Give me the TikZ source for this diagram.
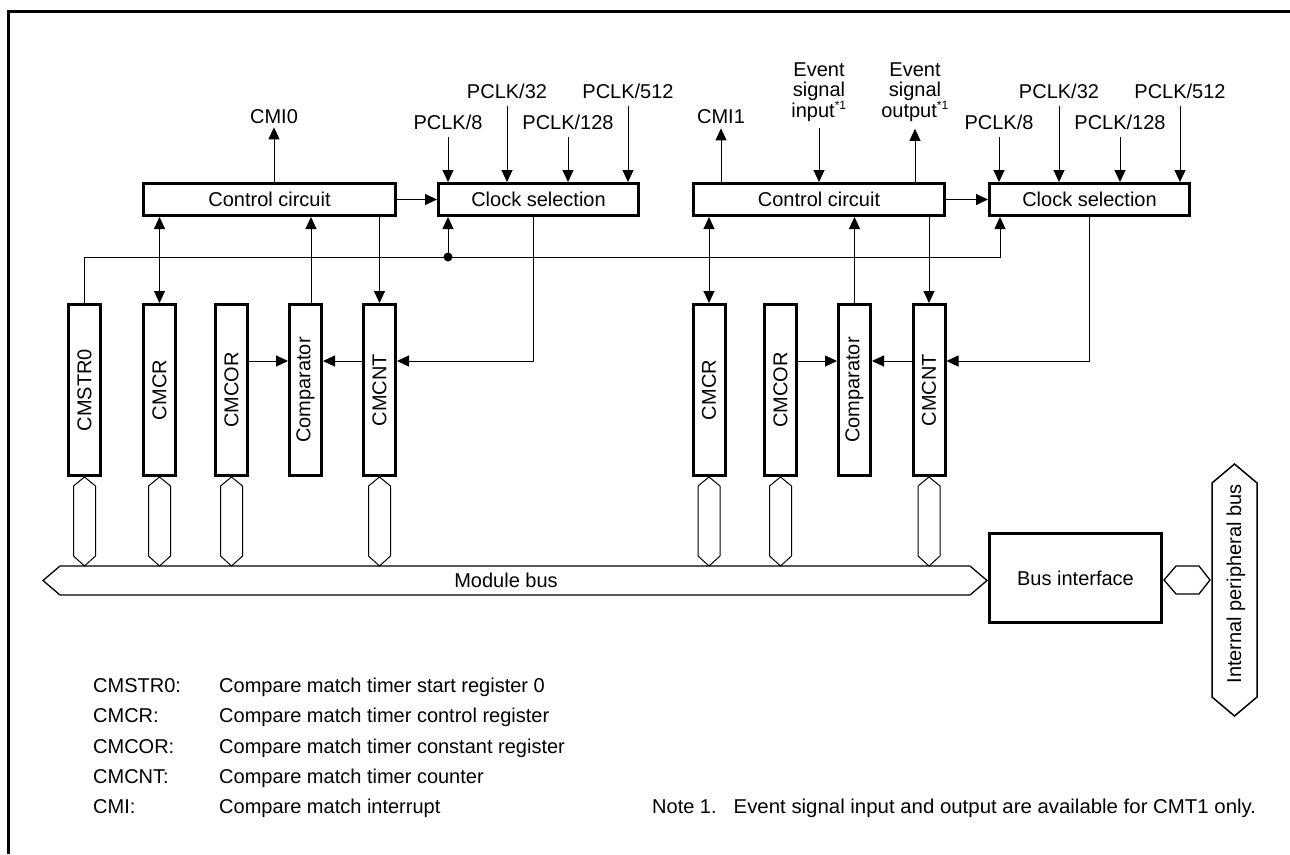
\documentclass[tikz,border=0pt]{standalone}
\usepackage{fontspec}
\setmainfont{Liberation Sans}
\usetikzlibrary{arrows.meta,calc}
\tikzset{
  box/.style={draw, line width=3pt, inner sep=0pt, font=\fontsize{20}{24}\selectfont},
  reg/.style={box, minimum width=32pt, minimum height=171pt},
  lbl/.style={inner sep=0pt, font=\fontsize{20}{20.5}\selectfont},
  arr/.style={line width=1pt, -{Triangle[length=12pt,width=11pt]}},
  darr/.style={line width=1pt, {Triangle[length=12pt,width=11pt]}-{Triangle[length=12pt,width=11pt]}},
  wire/.style={line width=1pt},
  busline/.style={line width=1.3pt},
}
\newcommand{\supone}{\textsuperscript{\fontsize{12}{12}\selectfont *1}}
\begin{document}
\begin{tikzpicture}[x=1pt,y=-1pt]
\useasboundingbox (0,0) rectangle (1290,854);
% frame
\draw[line width=3pt] (8.5,854) -- (8.5,11.5) -- (1290,11.5);

% top boxes
\node[box, minimum width=252pt, minimum height=32pt] (cc0) at (269.5,199.5) {Control circuit};
\node[box, minimum width=200pt, minimum height=32pt] (cs0) at (538.5,199.5) {Clock selection};
\node[box, minimum width=251pt, minimum height=32pt] (cc1) at (819,199.5) {Control circuit};
\node[box, minimum width=200pt, minimum height=32pt] (cs1) at (1089.5,199.5) {Clock selection};

% registers
\node[reg] (cmstr0) at (84.5,390) {\rotatebox{90}{CMSTR0}};
\node[reg] (cmcr0) at (159.5,390) {\rotatebox{90}{CMCR}};
\node[reg] (cmcor0) at (231.5,390) {\rotatebox{90}{CMCOR}};
\node[reg] (comp0) at (305.5,390) {\rotatebox{90}{Comparator}};
\node[reg] (cmcnt0) at (379.5,390) {\rotatebox{90}{CMCNT}};
\node[reg] (cmcr1) at (709,390) {\rotatebox{90}{CMCR}};
\node[reg] (cmcor1) at (780.5,390) {\rotatebox{90}{CMCOR}};
\node[reg] (comp1) at (854.5,390) {\rotatebox{90}{Comparator}};
\node[reg] (cmcnt1) at (929,390) {\rotatebox{90}{CMCNT}};

% top labels
\node[lbl, anchor=base] (cmi0) at (274,123) {CMI0};
\node[lbl, anchor=base] (p8a) at (448,129) {PCLK/8};
\node[lbl, anchor=base] (p32a) at (507,98) {PCLK/32};
\node[lbl, anchor=base] (p128a) at (568,129) {PCLK/128};
\node[lbl, anchor=base] (p512a) at (628,98) {PCLK/512};
\node[lbl, anchor=base] (cmi1) at (721,123) {CMI1};
\node[lbl, anchor=north, align=center] (ein) at (819,62.5) {Event\\signal\\input\supone};
\node[lbl, anchor=north, align=center] (eout) at (915,62.5) {Event\\signal\\output\supone};
\node[lbl, anchor=base] (p8b) at (999,129) {PCLK/8};
\node[lbl, anchor=base] (p32b) at (1059,98) {PCLK/32};
\node[lbl, anchor=base] (p128b) at (1120,129) {PCLK/128};
\node[lbl, anchor=base] (p512b) at (1180,98) {PCLK/512};

% top arrows
\draw[arr] (cc0.north -| cmi0) -- ([yshift=-4pt]cmi0.south);
\draw[arr] (cc1.north -| cmi1) -- ([yshift=-5pt]cmi1.south);
\foreach \p in {p8a,p32a,p128a,p512a}
  \draw[arr, shorten <=8pt] (\p.south) -- (\p.south |- cs0.north);
\foreach \p in {p8b,p32b,p128b,p512b}
  \draw[arr, shorten <=8pt] (\p.south) -- (\p.south |- cs1.north);
\draw[arr, shorten <=6pt] (ein.south) -- (ein.south |- cc1.north);
\draw[arr, shorten >=7pt] (cc1.north -| eout) -- (eout.south);
\draw[arr] (cc0.east) -- (cs0.west);
\draw[arr] (cc1.east) -- (cs1.west);

% control circuit <-> registers
\draw[darr] (cc0.south -| cmcr0) -- (cmcr0.north);
\coordinate (cp0) at ([xshift=5.5pt]comp0.north);
\draw[arr] (cp0) -- (cp0 |- cc0.south);
\draw[arr] (cc0.south -| cmcnt0) -- (cmcnt0.north);
\draw[darr] (cc1.south -| cmcr1) -- (cmcr1.north);
\draw[arr] (comp1.north) -- (comp1.north |- cc1.south);
\draw[arr] (cc1.south -| cmcnt1) -- (cmcnt1.north);

% start line
\coordinate (j0) at (448,257);
\coordinate (k1) at (1000,257);
\draw[arr] (cmstr0.north) |- (k1) -- (k1 |- cs1.south);
\draw[arr] (j0) -- (j0 |- cs0.south);
\fill (j0) circle (4.5pt);

% clock -> counter, comparator inputs
\coordinate (yh) at (0,361);
\coordinate (t0) at (533,361);
\coordinate (t1) at (1089.5,361);
\draw[arr] (t0 |- cs0.south) -- (t0) -- (t0 -| cmcnt0.east);
\draw[arr] (cs1.south) -- (t1) -- (t1 -| cmcnt1.east);
\draw[arr] (cmcor0.east |- yh) -- (comp0.west |- yh);
\draw[arr] (cmcnt0.west |- yh) -- (comp0.east |- yh);
\draw[arr] (cmcor1.east |- yh) -- (comp1.west |- yh);
\draw[arr] (cmcnt1.west |- yh) -- (comp1.east |- yh);

% register bus links
\foreach \n in {cmstr0,cmcr0,cmcor0,cmcnt0,cmcr1,cmcor1,cmcnt1}
  \draw[wire] (\n.south) -- ++(11,9) -- ++(0,70) -- ++(-11,10) -- ++(-11,-10) -- ++(0,-70) -- cycle;

% module bus
\draw[busline] (43,580.5) -- (60,566) -- (970,566) -- (987,580.5) -- (970,595) -- (60,595) -- cycle;
\node[lbl] (mbus) at (506,580.5) {Module bus};

% bus interface
\node[box, minimum width=172pt, minimum height=89pt] (bif) at (1075.5,578) {Bus interface};
\draw[busline] (1164,580) -- (1176,566) -- (1199,566) -- (1210,580) -- (1199,594) -- (1176,594) -- cycle;
\draw[line width=1.5pt] (1234.5,464) -- (1257,483) -- (1257,697) -- (1234.5,716) -- (1212,697) -- (1212,483) -- cycle;
\node[lbl] (ipb) at (1236,584) {\rotatebox{90}{Internal peripheral bus}};

% legend
\node[lbl, anchor=base west] (l1) at (93,692) {CMSTR0:};
\node[lbl, anchor=base west] (d1) at (219,692) {Compare match timer start register 0};
\node[lbl, anchor=base west] (l2) at (93,722.5) {CMCR:};
\node[lbl, anchor=base west] (d2) at (219,722.5) {Compare match timer control register};
\node[lbl, anchor=base west] (l3) at (93,753) {CMCOR:};
\node[lbl, anchor=base west] (d3) at (219,753) {Compare match timer constant register};
\node[lbl, anchor=base west] (l4) at (93,783.5) {CMCNT:};
\node[lbl, anchor=base west] (d4) at (219,783.5) {Compare match timer counter};
\node[lbl, anchor=base west] (l5) at (93,813.5) {CMI:};
\node[lbl, anchor=base west] (d5) at (219,813.5) {Compare match interrupt};
\node[lbl, anchor=base west] (note) at (652,813.5) {Note 1.\hspace{17pt}\scalebox{1.02}[1]{Event signal input and output are available for CMT1 only.}};
\end{tikzpicture}
\end{document}
